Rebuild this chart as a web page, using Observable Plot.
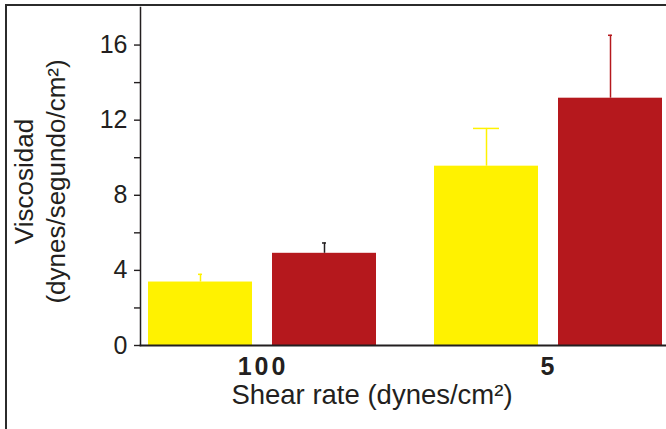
<!DOCTYPE html>
<html>
<head>
<meta charset="utf-8">
<script src="https://cdn.jsdelivr.net/npm/d3@7"></script>
<script src="https://cdn.jsdelivr.net/npm/@observablehq/plot@0.6"></script>
<style>
  html, body { margin: 0; padding: 0; background: #fff; }
  #wrap { position: relative; width: 666px; height: 429px; overflow: hidden; }
  #wrap svg { position: absolute; left: 0; top: 0; }
  #border { position: absolute; left: 5px; top: 4px; width: 700px; height: 500px;
            border-top: 2.5px solid #2b2b2b; border-left: 2.5px solid #2b2b2b; box-sizing: border-box; }
</style>
</head>
<body>
<div id="wrap"></div>
<script>
// ---- data ----
const groups = ["100", "5"];
const seriesNames = ["A", "B"];
const meansA = [3.38, 9.55];
const meansB = [4.91, 13.17];
const errA = [0.41, 2.01];
const errB = [0.55, 3.35];
const yTicks = [0, 2, 4, 6, 8, 10, 12, 14, 16];
const xTitle = "Shear rate (dynes/cm²)";
const yTitle = ["Viscosidad", "(dynes/segundo/cm²)"];

// ---- table ----
const rows = groups.flatMap((g, i) => [
  {group: g, series: "A", value: meansA[i], err: errA[i]},
  {group: g, series: "B", value: meansB[i], err: errB[i]}
]);

const colors = {A: "#fff200", B: "#b5181d"};
const ink = "#231f20";
const errColor = d => (d.series === "B" && d.group === "100") ? ink : colors[d.series];
const wideCap = d => d.series === "A" && d.group === "5";

const plot = Plot.plot({
  width: 666,
  height: 429,
  marginLeft: 139,
  marginRight: 0,
  marginTop: 7,
  marginBottom: 84,
  style: {fontFamily: "'Liberation Sans', Arial, sans-serif", background: "transparent", color: ink, overflow: "visible"},
  fx: {domain: groups, paddingInner: 0.199, paddingOuter: 0.0197, align: 0.73, label: null},
  x: {domain: seriesNames, paddingInner: 0.16, paddingOuter: 0, axis: null},
  y: {domain: [0, 18], axis: null},
  color: {type: "identity"},
  marks: [
    Plot.barY(rows, {fx: "group", x: "series", y: "value", fill: d => colors[d.series]}),
    Plot.ruleX(rows, {fx: "group", x: "series", y1: "value", y2: d => d.value + d.err,
                      stroke: errColor, strokeWidth: 1.5}),
    Plot.tickY(rows.filter(d => !wideCap(d)), {fx: "group", x: "series", y: d => d.value + d.err,
                      stroke: errColor, strokeWidth: 1.5, insetLeft: 50, insetRight: 50}),
    Plot.tickY(rows.filter(wideCap), {fx: "group", x: "series", y: d => d.value + d.err,
                      stroke: errColor, strokeWidth: 1.5, insetLeft: 39, insetRight: 39}),
    Plot.frame({facet: "super", anchor: "left", stroke: ink, strokeWidth: 1.5, insetLeft: -8}),
    Plot.frame({facet: "super", anchor: "bottom", stroke: ink, strokeWidth: 1.8, insetLeft: -8, insetRight: -4}),
    Plot.axisY(yTicks, {tickSize: 6, tickPadding: 7, dx: -8, fontSize: 25, label: null, strokeWidth: 1.4,
                        tickFormat: d => d % 4 === 0 ? String(d) : ""}),
    Plot.axisFx({anchor: "bottom", tickSize: 0, tickPadding: 12, fontSize: 25, fontWeight: "bold", label: null}),
    Plot.text([xTitle], {facet: "super", frameAnchor: "bottom", dx: -34, dy: 58, fontSize: 27.5, fill: ink}),
    Plot.text([yTitle.join("\n")], {facet: "super", frameAnchor: "left", textAnchor: "middle", rotate: -90,
                                     dx: -110, dy: 5, fontSize: 26, lineHeight: 1.22, fill: ink})
  ]
});

d3.select(plot).selectAll('g[aria-label="fx-axis tick label"] text').attr("letter-spacing", "3px");

const wrap = document.getElementById("wrap");
wrap.appendChild(plot);
const border = document.createElement("div");
border.id = "border";
wrap.appendChild(border);
</script>
</body>
</html>
